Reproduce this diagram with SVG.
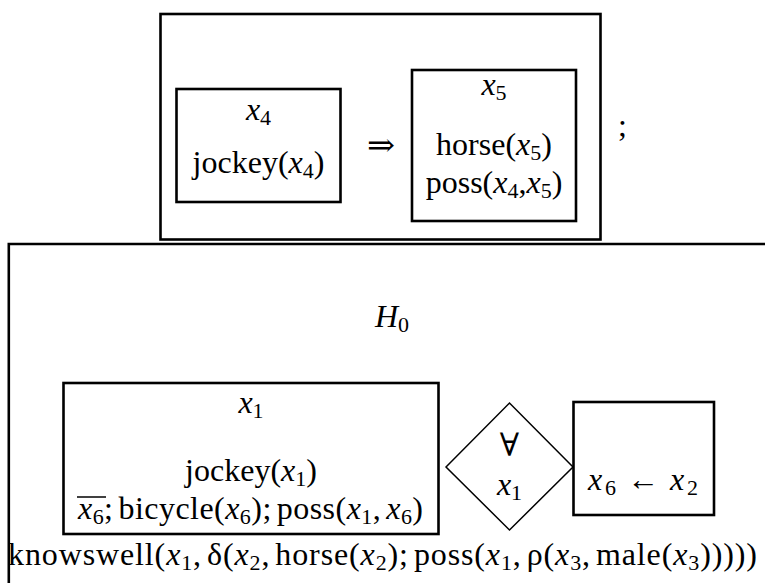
<svg xmlns="http://www.w3.org/2000/svg" width="765" height="586" viewBox="0 0 765 586">
  <style>
    text { font-family: "Liberation Serif", "Times New Roman", "DejaVu Serif", serif; font-size: 32px; fill: #000; }
    .c { text-anchor: middle; }
    .i { font-style: italic; }
    .sub { font-size: 22px; }
    .box { fill: #fff; stroke: #000; stroke-width: 2.6; }
    .thin { fill: #fff; stroke: #000; stroke-width: 1.5; }
    .frame { fill: none; stroke: #000; stroke-width: 2.6; }
  </style>

  <!-- implication condition: outer box -->
  <g id="implication">
    <rect class="box" x="160.5" y="14" width="440" height="225.5"/>

    <g id="antecedent">
      <rect class="box" x="176.5" y="89" width="164" height="113"/>
      <text class="c" x="258.5" y="120"><tspan class="i">x</tspan><tspan class="sub" dy="5">4</tspan></text>
      <text class="c" x="258.5" y="173">jockey(<tspan class="i">x</tspan><tspan class="sub" dy="5">4</tspan><tspan dy="-5">)</tspan></text>
    </g>

    <text id="arrow" x="367" y="156" textLength="28" lengthAdjust="spacingAndGlyphs" font-weight="normal">⇒</text>

    <g id="consequent">
      <rect class="box" x="412" y="70" width="164" height="151"/>
      <text class="c" x="494" y="95"><tspan class="i">x</tspan><tspan class="sub" dy="5">5</tspan></text>
      <text class="c" x="494" y="155">horse(<tspan class="i">x</tspan><tspan class="sub" dy="5">5</tspan><tspan dy="-5">)</tspan></text>
      <text class="c" x="494" y="193">poss(<tspan class="i">x</tspan><tspan class="sub" dy="5">4</tspan><tspan dy="-5">,</tspan><tspan class="i">x</tspan><tspan class="sub" dy="5">5</tspan><tspan dy="-5">)</tspan></text>
    </g>
  </g>

  <text id="semicolon" x="618" y="136">;</text>

  <!-- lower structure: open frame with top and left edges -->
  <g id="frame">
    <path class="frame" d="M765,244 H8.8 V583"/>
    <text id="h0" x="375" y="327"><tspan class="i">H</tspan><tspan class="sub" dy="5">0</tspan></text>
  </g>

  <g id="restrictor">
    <rect class="box" x="63.5" y="383" width="375" height="151"/>
    <text class="c" x="251" y="413"><tspan class="i">x</tspan><tspan class="sub" dy="5">1</tspan></text>
    <text class="c" x="251" y="481">jockey(<tspan class="i">x</tspan><tspan class="sub" dy="5">1</tspan><tspan dy="-5">)</tspan></text>
    <text x="78" y="519" textLength="345" lengthAdjust="spacing"><tspan class="i">x</tspan><tspan class="sub" dy="5">6</tspan><tspan dy="-5">;</tspan><tspan dx="5">bicycle(</tspan><tspan class="i">x</tspan><tspan class="sub" dy="5">6</tspan><tspan dy="-5">);</tspan><tspan dx="5">poss(</tspan><tspan class="i">x</tspan><tspan class="sub" dy="5">1</tspan><tspan dy="-5">,</tspan><tspan class="i" dx="5">x</tspan><tspan class="sub" dy="5">6</tspan><tspan dy="-5">)</tspan></text>
    <line x1="77" y1="497" x2="106" y2="497" stroke="#000" stroke-width="1.5"/>
  </g>

  <g id="quantifier">
    <polygon class="thin" points="446,467 509.5,403 573,467 509.5,530"/>
    <text class="c" x="509.5" y="456" font-size="27">∀</text>
    <text class="c" x="509.5" y="495"><tspan class="i">x</tspan><tspan class="sub" dy="5">1</tspan></text>
  </g>

  <g id="scope">
    <rect class="box" x="573.5" y="402" width="140.5" height="113"/>
    <text x="588" y="490" textLength="110" lengthAdjust="spacing"><tspan class="i">x</tspan><tspan class="sub" dy="5">6</tspan><tspan dy="-5" dx="8">←</tspan><tspan class="i" dx="8">x</tspan><tspan class="sub" dy="5">2</tspan></text>
  </g>

  <text id="predicate" x="8" y="565" textLength="749" lengthAdjust="spacing">knowswell(<tspan class="i">x</tspan><tspan class="sub" dy="5">1</tspan><tspan dy="-5">,</tspan><tspan dx="5">δ(</tspan><tspan class="i">x</tspan><tspan class="sub" dy="5">2</tspan><tspan dy="-5">,</tspan><tspan dx="5">horse(</tspan><tspan class="i">x</tspan><tspan class="sub" dy="5">2</tspan><tspan dy="-5">);</tspan><tspan dx="5">poss(</tspan><tspan class="i">x</tspan><tspan class="sub" dy="5">1</tspan><tspan dy="-5">,</tspan><tspan dx="5">ρ(</tspan><tspan class="i">x</tspan><tspan class="sub" dy="5">3</tspan><tspan dy="-5">,</tspan><tspan dx="5">male(</tspan><tspan class="i">x</tspan><tspan class="sub" dy="5">3</tspan><tspan dy="-5">)))))</tspan></text>
</svg>
